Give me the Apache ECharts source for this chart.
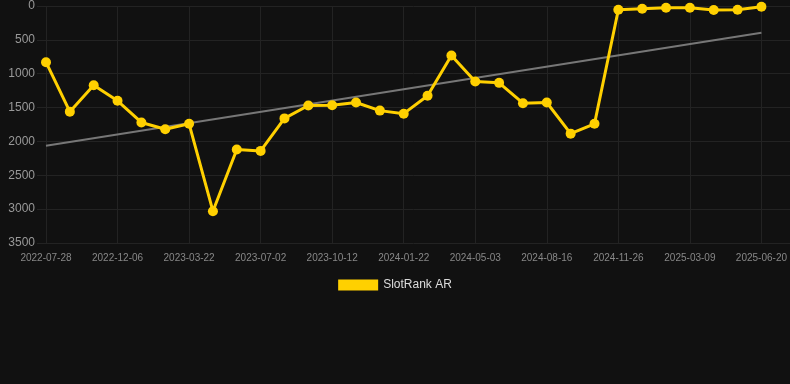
<!DOCTYPE html>
<html>
<head>
<meta charset="utf-8">
<script src="https://cdn.jsdelivr.net/npm/echarts@6/dist/echarts.min.js"></script>
<style>
  html, body { margin: 0; padding: 0; background: #111111; }
  #chart { width: 790px; height: 384px; }
</style>
</head>
<body>
<div id="chart"></div>
<script>
// categories (only every third one is labelled in the picture)
const dates = [
  '2022-07-28', '2022-09-10', '2022-10-23', '2022-12-06', '2023-01-09', '2023-02-12',
  '2023-03-22', '2023-04-25', '2023-05-29', '2023-07-02', '2023-08-05', '2023-09-08',
  '2023-10-12', '2023-11-15', '2023-12-19', '2024-01-22', '2024-02-25', '2024-03-30',
  '2024-05-03', '2024-06-07', '2024-07-12', '2024-08-16', '2024-09-19', '2024-10-23',
  '2024-11-26', '2024-12-30', '2025-02-03', '2025-03-09', '2025-04-12', '2025-05-16',
  '2025-06-20'
]
const rank = [
  830, 1560, 1170, 1400, 1720, 1820, 1740, 3030, 2120, 2140, 1660,
  1470, 1465, 1425, 1545, 1590, 1325, 730, 1115, 1135, 1435, 1425,
  1885, 1740, 55, 40, 25, 25, 60, 55, 10
]
// trend line end points (first and last category)
const trend = [2065, null, null, null, null, null, null, null, null, null, null,
  null, null, null, null, null, null, null, null, null, null, null,
  null, null, null, null, null, null, null, null, 395]
const yTicks = [0, 3500, 500]

const gridLine = '#232323'

const chart = echarts.init(document.getElementById('chart'))
const option = {
  backgroundColor: '#111111',
  animation: false,
  // grid 0 only carries the horizontal lines (they run to the right edge)
  grid: [
    { left: 37, right: 0, top: 6, bottom: 141 },
    { left: 46, right: 28, top: 6, bottom: 141 }
  ],
  legend: {
    bottom: 88,
    left: 'center',
    icon: 'rect',
    itemWidth: 40,
    itemHeight: 11,
    itemGap: 10,
    data: ['SlotRank AR'],
    textStyle: {
      color: '#dddddd',
      fontSize: 12,
      fontFamily: 'Liberation Sans'
    }
  },
  xAxis: [
    {
      gridIndex: 0,
      type: 'value',
      show: false
    },
    {
      gridIndex: 1,
      type: 'category',
      boundaryGap: false,
      data: dates,
      axisLine: { show: false },
      axisTick: {
        show: true,
        interval: 2,
        length: 7,
        lineStyle: { color: gridLine }
      },
      axisLabel: {
        color: '#888888',
        fontSize: 10,
        fontFamily: 'Liberation Sans',
        interval: 2,
        margin: 10
      },
      splitLine: {
        show: true,
        interval: 2,
        lineStyle: { color: gridLine }
      }
    }
  ],
  yAxis: [
    {
      gridIndex: 0,
      type: 'value',
      inverse: true,
      min: yTicks[0],
      max: yTicks[1],
      interval: yTicks[2],
      axisLine: { show: false },
      axisTick: { show: false },
      axisLabel: {
        color: '#999999',
        fontSize: 12,
        fontFamily: 'Liberation Sans',
        margin: 2,
        formatter: (v) => String(v)
      },
      splitLine: {
        lineStyle: { color: gridLine }
      }
    },
    {
      gridIndex: 1,
      type: 'value',
      inverse: true,
      min: yTicks[0],
      max: yTicks[1],
      interval: yTicks[2],
      axisLine: { show: false },
      axisTick: { show: false },
      axisLabel: { show: false },
      splitLine: { show: false }
    }
  ],
  series: [
    {
      name: 'trend',
      type: 'line',
      xAxisIndex: 1,
      yAxisIndex: 1,
      data: trend,
      connectNulls: true,
      showSymbol: false,
      silent: true,
      lineStyle: { color: '#777777', width: 2 },
      itemStyle: { color: '#777777' },
      z: 1
    },
    {
      name: 'SlotRank AR',
      type: 'line',
      xAxisIndex: 1,
      yAxisIndex: 1,
      data: rank,
      symbol: 'circle',
      symbolSize: 10,
      lineStyle: { color: '#FFD000', width: 3 },
      itemStyle: { color: '#FFD000' },
      z: 2
    }
  ]
}
chart.setOption(option)
</script>
</body>
</html>
